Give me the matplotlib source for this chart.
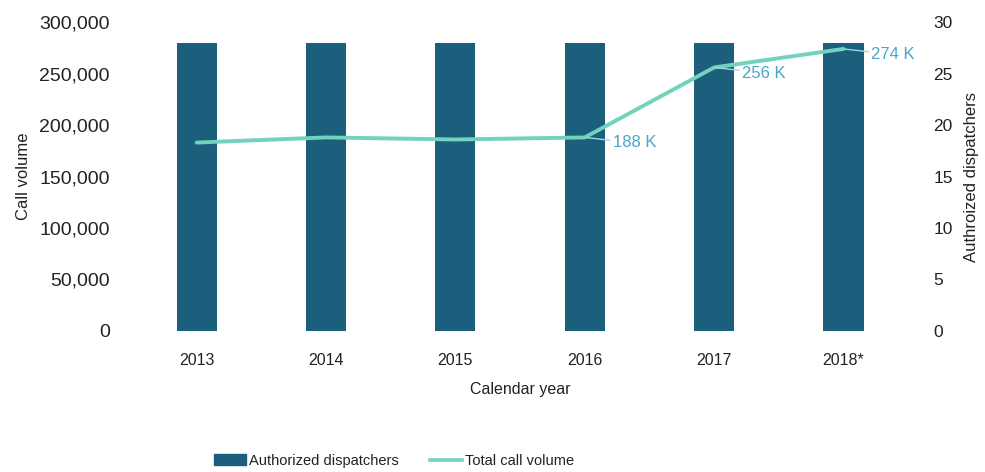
import matplotlib.pyplot as plt
from matplotlib.ticker import FuncFormatter
from matplotlib.lines import Line2D
from matplotlib.patches import Patch

plt.rcParams['font.family'] = ['Liberation Sans', 'DejaVu Sans']

years = ['2013', '2014', '2015', '2016', '2017', '2018*']
dispatchers = [28, 28, 28, 28, 28, 28]
call_volume = [183000, 188000, 186000, 188000, 256000, 274000]
# labelled points: index -> text
point_labels = {3: '188 K', 4: '256 K', 5: '274 K'}

BAR_COLOR = '#1c5f7c'
LINE_COLOR = '#72d2bd'
LABEL_COLOR = '#4ba4cc'
TEXT_COLOR = '#222222'

fig = plt.figure(figsize=(9.85, 4.72), dpi=100)
ax = fig.add_axes([0.134, 0.299, 0.788, 0.654])
ax2 = ax.twinx()

x = list(range(len(years)))

# bars on the right axis (dispatchers)
ax2.bar(x, dispatchers, width=0.31, color=BAR_COLOR, zorder=1)
ax2.set_ylim(0, 30)
ax2.set_yticks(range(0, 31, 5))

# the line is drawn on the left axis, but must sit above the bars
ax.set_zorder(ax2.get_zorder() + 1)
ax.patch.set_visible(False)
ax.plot(x, call_volume, color=LINE_COLOR, lw=2.8, zorder=3, solid_capstyle='round')
ax.set_ylim(0, 300000)
ax.set_xlim(-0.5, len(years) - 0.5)
ax.set_yticks(range(0, 300001, 50000))
ax.yaxis.set_major_formatter(FuncFormatter(lambda v, p: '{:,.0f}'.format(v)))
ax.set_xticks(x)
ax.set_xticklabels(years)

for i, txt in point_labels.items():
    ax.annotate(txt, xy=(x[i], call_volume[i]), xytext=(20, -4),
                textcoords='offset points', va='center', ha='left',
                color=LABEL_COLOR, fontsize=12,
                arrowprops=dict(arrowstyle='-', color='#9fd6ea', lw=1.0,
                                shrinkA=0, shrinkB=1))

for a in (ax, ax2):
    for s in a.spines.values():
        s.set_visible(False)
    a.tick_params(length=0, colors=TEXT_COLOR)

ax.tick_params(axis='y', labelsize=14, pad=16)
ax.tick_params(axis='x', labelsize=11.5, pad=16)
ax2.tick_params(axis='y', labelsize=12.5, pad=18)

ax.set_ylabel('Call volume', fontsize=12, color=TEXT_COLOR, labelpad=6)
ax.set_xlabel('Calendar year', fontsize=11.5, color=TEXT_COLOR, labelpad=10)
ax2.set_ylabel('Authroized dispatchers', fontsize=12, color=TEXT_COLOR, labelpad=8)

handles = [Patch(color=BAR_COLOR), Line2D([0], [0], color=LINE_COLOR, lw=2.6)]
fig.legend(handles, ['Authorized dispatchers', 'Total call volume'],
           loc='center', bbox_to_anchor=(0.4, 0.024), ncol=2, frameon=False,
           fontsize=10.5, handlelength=2.2, handleheight=0.7,
           columnspacing=2.2, handletextpad=0.2, labelcolor=TEXT_COLOR)

fig.savefig('out.png', dpi=100, facecolor='white')
